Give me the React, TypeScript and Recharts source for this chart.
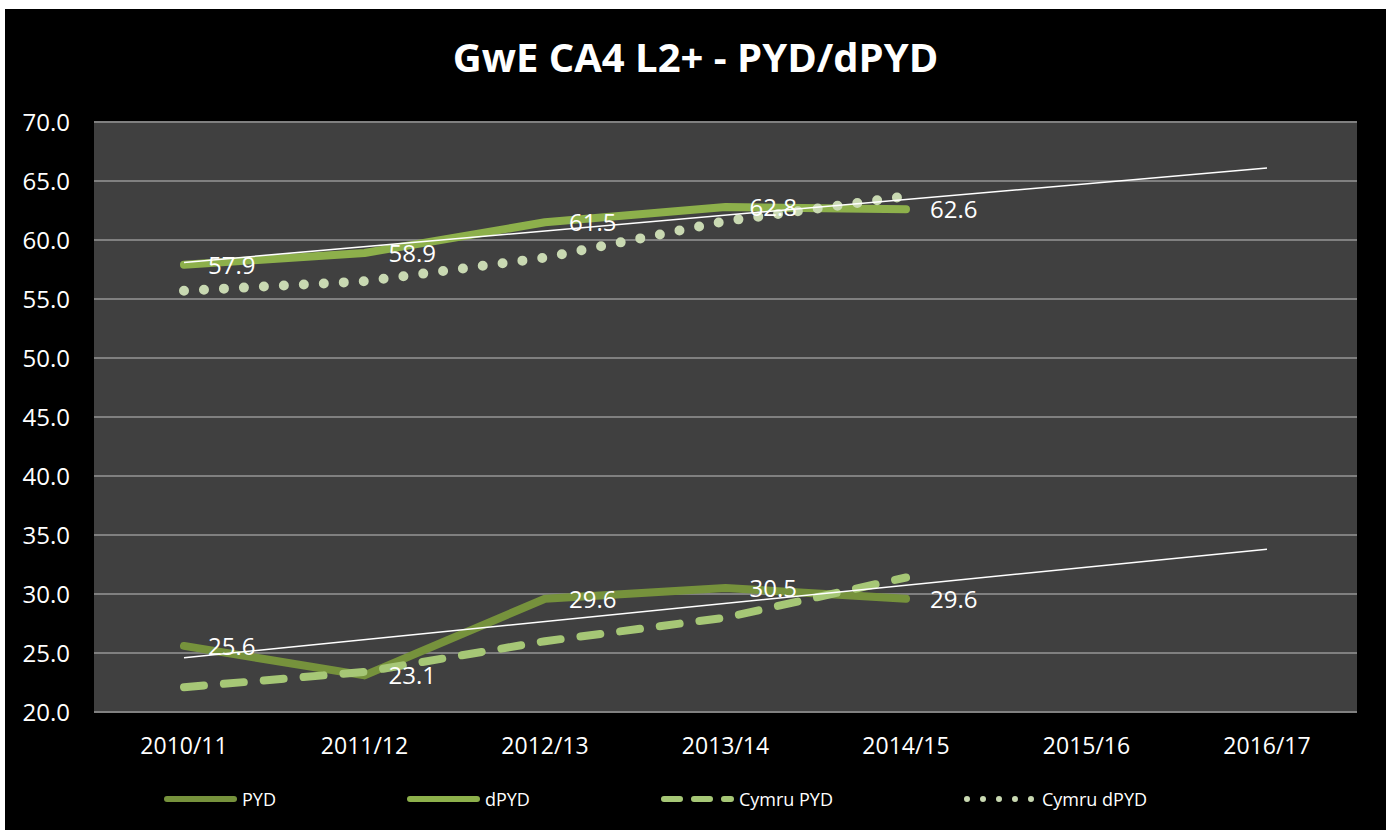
import { CartesianGrid, LabelList, Legend, Line, LineChart, XAxis, YAxis } from 'recharts'

const years = ['2010/11', '2011/12', '2012/13', '2013/14', '2014/15', '2015/16', '2016/17']
const pyd = [25.6, 23.1, 29.6, 30.5, 29.6, null, null]
const dpyd = [57.9, 58.9, 61.5, 62.8, 62.6, null, null]
const cymruPyd = [22.1, 23.4, 26.0, 28.0, 31.4, null, null]
const cymruDpyd = [55.7, 56.5, 58.5, 61.6, 63.7, null, null]
// linear trendlines (start / end)
const pydTrend = [24.6, null, null, null, null, null, 33.8]
const dpydTrend = [58.1, null, null, null, null, null, 66.1]
const yTicks = [20, 25, 30, 35, 40, 45, 50, 55, 60, 65, 70]

const data = years.map((year, i) => ({
  year,
  pyd: pyd[i],
  dpyd: dpyd[i],
  cymruPyd: cymruPyd[i],
  cymruDpyd: cymruDpyd[i],
  pydTrend: pydTrend[i],
  dpydTrend: dpydTrend[i],
}))

const FONT = '"Open Sans", sans-serif'

const legendItems = [
  { name: 'PYD', color: '#76923C', dash: undefined, width: 6 },
  { name: 'dPYD', color: '#8DB04B', dash: undefined, width: 6 },
  { name: 'Cymru PYD', color: '#A6C776', dash: '16 14', width: 6 },
  { name: 'Cymru dPYD', color: '#C9D9B2', dash: '0 16', width: 6 },
]

const renderLabel = (props: any) => {
  const { x, y, value } = props
  if (value == null) return null
  return (
    <text x={x + 24} y={y + 9} fill="#FFFFFF" fontSize={24} fontFamily={FONT}>
      {Number(value).toFixed(1)}
    </text>
  )
}

const renderLegend = () => (
  <div style={{ display: 'flex', alignItems: 'center', gap: 130, fontFamily: FONT }}>
    {legendItems.map((item) => (
      <div key={item.name} style={{ display: 'flex', alignItems: 'center', gap: 4 }}>
        <svg width={75} height={12}>
          <line
            x1={4}
            y1={6}
            x2={71}
            y2={6}
            stroke={item.color}
            strokeWidth={item.width}
            strokeLinecap="round"
            strokeDasharray={item.dash}
          />
        </svg>
        <span style={{ color: '#FFFFFF', fontSize: 18 }}>{item.name}</span>
      </div>
    ))}
  </div>
)

export default function App() {
  return (
    <div style={{ position: 'absolute', left: 0, top: 0, width: 1392, height: 830, background: '#FFFFFF' }}>
      <div style={{ position: 'absolute', left: 5, top: 9, width: 1381, height: 821, background: '#000000' }}>
        <div
          style={{
            position: 'absolute',
            top: 25,
            width: '100%',
            textAlign: 'center',
            color: '#FFFFFF',
            fontFamily: FONT,
            fontWeight: 700,
            fontSize: 40,
            lineHeight: '46px',
          }}
        >
          GwE CA4 L2+ - PYD/dPYD
        </div>
        <LineChart width={1381} height={821} data={data} margin={{ top: 113, right: 29, left: 0, bottom: 54 }}>
          <CartesianGrid vertical={false} stroke="#808080" strokeWidth={2} fill="#404040" />
          <XAxis
            dataKey="year"
            axisLine={false}
            tickLine={false}
            height={40}
            padding={{ left: 90, right: 90 }}
            tick={{ fill: '#FFFFFF', fontSize: 23, fontFamily: FONT }}
            tickMargin={20}
          />
          <YAxis
            domain={[20, 70]}
            ticks={yTicks}
            interval={0}
            axisLine={false}
            tickLine={false}
            width={89}
            tickSize={0}
            tickMargin={24}
            tickFormatter={(v: number) => v.toFixed(1)}
            tick={{ fill: '#FFFFFF', fontSize: 24, fontFamily: FONT }}
          />
          <Legend
            verticalAlign="bottom"
            content={renderLegend}
            wrapperStyle={{ position: 'absolute', left: 158, top: 778, width: 'auto' }}
          />
          <Line
            dataKey="pyd"
            name="PYD"
            stroke="#76923C"
            strokeWidth={8}
            strokeLinecap="round"
            strokeLinejoin="round"
            dot={false}
            activeDot={false}
            isAnimationActive={false}
          >
            <LabelList dataKey="pyd" content={renderLabel} />
          </Line>
          <Line
            dataKey="dpyd"
            name="dPYD"
            stroke="#8DB04B"
            strokeWidth={8}
            strokeLinecap="round"
            strokeLinejoin="round"
            dot={false}
            activeDot={false}
            isAnimationActive={false}
          >
            <LabelList dataKey="dpyd" content={renderLabel} />
          </Line>
          <Line
            dataKey="cymruPyd"
            name="Cymru PYD"
            stroke="#A6C776"
            strokeWidth={8}
            strokeDasharray="20 20"
            strokeLinecap="round"
            strokeLinejoin="round"
            dot={false}
            activeDot={false}
            isAnimationActive={false}
          />
          <Line
            dataKey="cymruDpyd"
            name="Cymru dPYD"
            stroke="#C9D9B2"
            strokeWidth={10}
            strokeDasharray="0 20"
            strokeLinecap="round"
            dot={false}
            activeDot={false}
            isAnimationActive={false}
          />
          <Line
            dataKey="pydTrend"
            stroke="#FFFFFF"
            strokeWidth={1.5}
            connectNulls
            dot={false}
            activeDot={false}
            legendType="none"
            isAnimationActive={false}
          />
          <Line
            dataKey="dpydTrend"
            stroke="#FFFFFF"
            strokeWidth={1.5}
            connectNulls
            dot={false}
            activeDot={false}
            legendType="none"
            isAnimationActive={false}
          />
        </LineChart>
      </div>
    </div>
  )
}
